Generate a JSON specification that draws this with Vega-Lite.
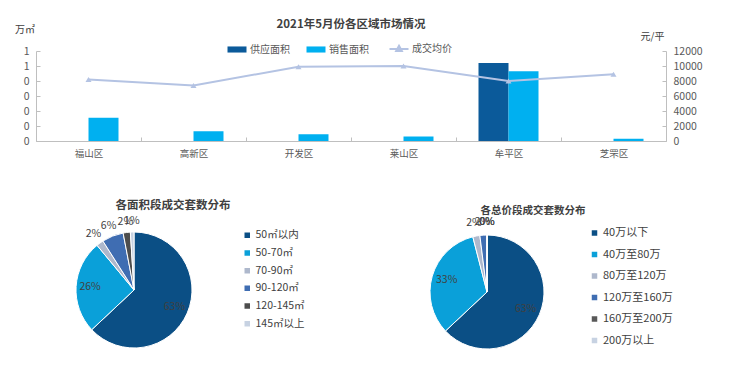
{
  "$schema": "https://vega.github.io/schema/vega-lite/v6.json",
  "padding": {"left": 14, "top": 18, "right": 5, "bottom": 5},
  "background": "white",
  "config": {
    "font": "Noto Sans CJK SC",
    "view": {"stroke": null},
    "axis": {"labelFont": "Noto Sans CJK SC", "titleFont": "Noto Sans CJK SC", "grid": false},
    "legend": {"labelFont": "Noto Sans CJK SC", "padding": 0},
    "title": {"font": "Noto Sans CJK SC"}
  },
  "bounds": "flush",
  "spacing": 91,
  "resolve": {"scale": {"color": "independent", "theta": "independent", "radius": "independent"}, "legend": {"color": "independent"}},
  "vconcat": [
    {
      "width": 630,
      "height": 90,
      "title": {"text": "2021年5月份各区域市场情况", "fontSize": 11.5, "fontWeight": "bold", "color": "#404040", "anchor": "middle", "offset": -6},
      "data": {"values": [
        {"区域": "福山区", "供应面积": 0, "销售面积": 0.31, "成交均价": 8200},
        {"区域": "高新区", "供应面积": 0, "销售面积": 0.13, "成交均价": 7400},
        {"区域": "开发区", "供应面积": 0, "销售面积": 0.09, "成交均价": 9900},
        {"区域": "莱山区", "供应面积": 0, "销售面积": 0.06, "成交均价": 10000},
        {"区域": "牟平区", "供应面积": 1.04, "销售面积": 0.93, "成交均价": 8000},
        {"区域": "芝罘区", "供应面积": 0, "销售面积": 0.03, "成交均价": 8900}
      ]},
      "layer": [
        {
          "transform": [{"fold": ["供应面积", "销售面积"], "as": ["系列", "面积"]}],
          "mark": {"type": "bar"},
          "encoding": {
            "x": {"field": "区域", "type": "nominal", "sort": null, "scale": {"paddingInner": 0, "paddingOuter": 0},
              "axis": {"title": null, "labelAngle": 0, "labelFontSize": 9.5, "labelColor": "#595959", "domainColor": "#BFBFBF", "tickColor": "#BFBFBF", "tickBand": "extent", "tickSize": -4, "labelPadding": 11}},
            "xOffset": {"field": "系列", "type": "nominal", "scale": {"domain": ["供应面积", "销售面积"], "paddingInner": 0, "paddingOuter": 0.75}},
            "y": {"field": "面积", "type": "quantitative", "scale": {"domain": [0, 1.2]},
              "axis": {"values": [0, 0.2, 0.4, 0.6, 0.8, 1, 1.2], "labelExpr": "floor(datum.value + 1e-9)", "labelFontSize": 10.5, "labelColor": "#595959", "domainColor": "#BFBFBF", "tickColor": "#BFBFBF", "tickSize": -4, "labelPadding": 11,
                "title": "万㎡", "titleAngle": 0, "titleX": -11.5, "titleY": -22, "titleAlign": "center", "titleBaseline": "middle", "titleFontSize": 10, "titleFontWeight": "normal", "titleColor": "#404040"}},
            "color": {"field": "系列", "type": "nominal",
              "scale": {"domain": ["供应面积", "销售面积", "成交均价"], "range": ["#0B5A9A", "#00B0F0", "#B4C3E3"]},
              "legend": {"orient": "none", "legendX": 196, "legendY": -7.5, "direction": "horizontal", "title": null, "symbolSize": 361, "labelFontSize": 10, "labelColor": "#595959", "columnPadding": 16, "labelOffset": 8,
                "encode": {"symbols": {"update": {
                  "shape": {"signal": "datum.value === '成交均价' ? 'M-1,0H1M0,-0.33L0.3,0.22H-0.3Z' : 'M-1,-0.32H1V0.32H-1Z'"},
                  "fill": {"signal": "scale('color', datum.value)"},
                  "stroke": {"signal": "scale('color', datum.value)"},
                  "strokeWidth": {"signal": "datum.value === '成交均价' ? 2 : 0"},
                  "opacity": {"value": 1}, "fillOpacity": {"value": 1}, "strokeOpacity": {"value": 1}
                }}}}}
          }
        },
        {
          "mark": {"type": "line", "strokeWidth": 2, "point": {"shape": "triangle-up", "filled": true, "size": 36}},
          "encoding": {
            "x": {"field": "区域", "type": "nominal", "sort": null},
            "y": {"field": "成交均价", "type": "quantitative", "scale": {"domain": [0, 12000]},
              "axis": {"orient": "right", "values": [0, 2000, 4000, 6000, 8000, 10000, 12000], "format": "d", "labelFontSize": 10.5, "labelColor": "#595959", "domainColor": "#BFBFBF", "tickColor": "#BFBFBF", "tickSize": -4, "labelPadding": 11,
                "title": "元/平", "titleAngle": 0, "titleX": -14, "titleY": -15, "titleAlign": "center", "titleBaseline": "middle", "titleFontSize": 10, "titleFontWeight": "normal", "titleColor": "#404040"}},
            "color": {"datum": "成交均价"}
          }
        }
      ],
      "resolve": {"scale": {"y": "independent"}}
    },
    {
      "hconcat": [
        {
          "width": 196,
          "height": 116,
          "title": {"text": "各面积段成交套数分布", "fontSize": 11.5, "fontWeight": "bold", "color": "#404040", "dx": 39, "offset": 5},
          "data": {"values": [
            {"面积段": "50㎡以内", "占比": 0.63},
            {"面积段": "50-70㎡", "占比": 0.26},
            {"面积段": "70-90㎡", "占比": 0.02},
            {"面积段": "90-120㎡", "占比": 0.06},
            {"面积段": "120-145㎡", "占比": 0.02},
            {"面积段": "145㎡以上", "占比": 0.01}
          ]},
          "transform": [{"window": [{"op": "row_number", "as": "序号"}]}],
          "encoding": {
            "theta": {"field": "占比", "type": "quantitative", "stack": true},
            "order": {"field": "序号", "type": "quantitative"}
          },
          "layer": [
            {
              "mark": {"type": "arc", "outerRadius": 58, "stroke": "white", "strokeWidth": 1},
              "encoding": {
                "color": {"field": "面积段", "type": "nominal",
                  "scale": {"domain": ["50㎡以内", "50-70㎡", "70-90㎡", "90-120㎡", "120-145㎡", "145㎡以上"], "range": ["#0B4F85", "#0AA0D9", "#AEB8CC", "#3F6DB2", "#4D4D4D", "#C7D2E2"]},
                  "legend": {"orient": "none", "legendX": 206, "legendY": -2, "title": null, "symbolType": "square", "symbolSize": 49, "labelFontSize": 10.5, "labelColor": "#404040", "rowPadding": 3.7, "labelOffset": 3}}
              }
            },
            {
              "mark": {"type": "text", "fontSize": 10.5, "color": "#404040"},
              "encoding": {
                "detail": {"field": "面积段", "type": "nominal"},
                "text": {"field": "占比", "type": "quantitative", "format": ".0%"},
                "radius": {"field": "占比", "type": "quantitative", "scale": {"type": "linear", "domain": [0.099, 0.1], "range": [69, 44], "clamp": true, "zero": false}}
              }
            }
          ]
        },
        {
          "width": 114,
          "height": 120,
          "title": {"text": "各总价段成交套数分布", "fontSize": 10.5, "fontWeight": "bold", "color": "#404040", "dx": 46, "offset": 1},
          "data": {"values": [
            {"总价段": "40万以下", "占比": 0.63},
            {"总价段": "40万至80万", "占比": 0.33},
            {"总价段": "80万至120万", "占比": 0.02},
            {"总价段": "120万至160万", "占比": 0.02},
            {"总价段": "160万至200万", "占比": 0},
            {"总价段": "200万以上", "占比": 0}
          ]},
          "transform": [{"window": [{"op": "row_number", "as": "序号"}]}],
          "encoding": {
            "theta": {"field": "占比", "type": "quantitative", "stack": true},
            "order": {"field": "序号", "type": "quantitative"}
          },
          "layer": [
            {
              "mark": {"type": "arc", "outerRadius": 57, "stroke": "white", "strokeWidth": 1},
              "encoding": {
                "color": {"field": "总价段", "type": "nominal",
                  "scale": {"domain": ["40万以下", "40万至80万", "80万至120万", "120万至160万", "160万至200万", "200万以上"], "range": ["#0B4F85", "#0AA0D9", "#AEB8CC", "#3F6DB2", "#595959", "#C7D2E2"]},
                  "legend": {"orient": "none", "legendX": 159, "legendY": -4.5, "title": null, "symbolType": "square", "symbolSize": 49, "labelFontSize": 11, "labelColor": "#404040", "rowPadding": 8.5, "labelOffset": 3}}
              }
            },
            {
              "mark": {"type": "text", "fontSize": 10.5, "color": "#404040"},
              "encoding": {
                "detail": {"field": "总价段", "type": "nominal"},
                "text": {"field": "占比", "type": "quantitative", "format": ".0%"},
                "radius": {"field": "占比", "type": "quantitative", "scale": {"type": "linear", "domain": [0.099, 0.1], "range": [70, 42], "clamp": true, "zero": false}}
              }
            }
          ]
        }
      ],
      "bounds": "flush",
      "spacing": 198,
      "resolve": {"scale": {"color": "independent", "theta": "independent", "radius": "independent"}, "legend": {"color": "independent"}}
    }
  ]
}
